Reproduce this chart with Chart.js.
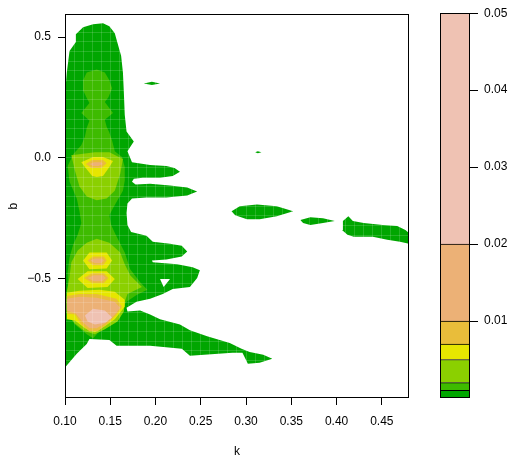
<!DOCTYPE html>
<html>
<head>
<meta charset="utf-8">
<script src="https://cdn.jsdelivr.net/npm/chart.js@4.4.1/dist/chart.umd.min.js"></script>
<style>
  html, body { margin: 0; padding: 0; background: #fff; }
  #wrap { position: relative; width: 510px; height: 463px; }
  #mainBox { position: absolute; left: 0; top: 0; width: 420px; height: 463px; }
  #keyBox  { position: absolute; left: 420px; top: 0; width: 90px; height: 463px; }
</style>
</head>
<body>
<div id="wrap">
  <div id="mainBox"><canvas id="main" width="420" height="463"></canvas></div>
  <div id="keyBox"><canvas id="key" width="90" height="463"></canvas></div>
</div>
<script>
/* ── axes ─────────────────────────────────────────────── */
const kRange = [0.10, 0.48];
const bRange = [-0.995, 0.595];
const kTicks = [0.10, 0.15, 0.20, 0.25, 0.30, 0.35, 0.40, 0.45];
const bTicks = [-0.5, 0.0, 0.5];
const kCellStep = 0.01;   // grid of the estimate (shows as faint seams)
const bCellStep = 0.04;

/* ── contour levels + colours (band i = levels[i]..levels[i+1]) ── */
const levels      = [0, 0.001, 0.002, 0.005, 0.007, 0.01, 0.02, 0.05];
const levelColors = ['#00A600', '#3EBB00', '#8BD000', '#E6E600', '#E9BD3A', '#ECB176', '#EFC2B3'];
const keyTicks    = [0.01, 0.02, 0.03, 0.04, 0.05];

/* ── regions above each level, [k, b] outlines ── */
// level 0 (> 0)
const lv0Main = [
  [0.100, 0.260], [0.102, 0.353], [0.105, 0.443], [0.112, 0.480], [0.112, 0.512],
  [0.120, 0.541], [0.131, 0.553], [0.142, 0.557], [0.149, 0.545], [0.155, 0.516],
  [0.158, 0.476], [0.162, 0.423], [0.164, 0.353], [0.165, 0.272], [0.166, 0.178],
  [0.168, 0.109], [0.176, 0.068], [0.169, 0.027], [0.174, -0.018],
  [0.194, -0.030], [0.212, -0.034], [0.221, -0.042], [0.227, -0.058], [0.219, -0.075],
  [0.205, -0.083], [0.186, -0.083], [0.176, -0.087], [0.174, -0.099], [0.178, -0.111],
  [0.194, -0.107], [0.216, -0.115], [0.235, -0.123], [0.246, -0.140], [0.235, -0.156],
  [0.212, -0.164], [0.190, -0.164], [0.174, -0.168], [0.169, -0.189], [0.168, -0.229],
  [0.169, -0.278], [0.173, -0.307], [0.190, -0.323], [0.197, -0.348], [0.216, -0.356],
  [0.229, -0.364], [0.235, -0.388], [0.229, -0.409], [0.212, -0.421], [0.196, -0.425],
  [0.197, -0.433], [0.224, -0.441], [0.241, -0.453], [0.249, -0.466], [0.246, -0.498],
  [0.238, -0.535], [0.219, -0.543], [0.208, -0.564], [0.194, -0.584], [0.179, -0.596],
  [0.168, -0.621], [0.169, -0.637], [0.183, -0.633], [0.194, -0.649], [0.205, -0.669],
  [0.227, -0.690], [0.238, -0.714], [0.257, -0.739], [0.282, -0.767], [0.295, -0.791],
  [0.304, -0.804], [0.319, -0.816], [0.329, -0.832], [0.315, -0.849], [0.302, -0.853],
  [0.296, -0.808], [0.285, -0.808], [0.238, -0.820], [0.229, -0.791], [0.194, -0.779],
  [0.157, -0.779], [0.149, -0.755], [0.127, -0.751], [0.124, -0.771], [0.113, -0.812],
  [0.100, -0.869],
];
const lv0Sliver = [[0.187, 0.308], [0.196, 0.315], [0.205, 0.308], [0.196, 0.302]];
const lv0Dot    = [[0.310, 0.023], [0.313, 0.027], [0.317, 0.023], [0.313, 0.019]];
const lv0StreakA = [
  [0.284, -0.221], [0.293, -0.201], [0.312, -0.193], [0.334, -0.201], [0.352, -0.221],
  [0.334, -0.242], [0.315, -0.254], [0.301, -0.254], [0.288, -0.238],
];
const lv0StreakB = [
  [0.360, -0.258], [0.371, -0.246], [0.385, -0.250], [0.398, -0.262],
  [0.385, -0.270], [0.371, -0.278], [0.363, -0.270],
];
const lv0StreakC = [
  [0.406, -0.299], [0.407, -0.262], [0.413, -0.242], [0.418, -0.262], [0.430, -0.270],
  [0.451, -0.278], [0.467, -0.282], [0.476, -0.299], [0.480, -0.311], [0.480, -0.356],
  [0.470, -0.348], [0.456, -0.339], [0.440, -0.327], [0.419, -0.327], [0.412, -0.319],
];
const lv0Hole = [[0.205, -0.502], [0.216, -0.502], [0.209, -0.535]];

// level 1 (> 0.001)
const lv1Core = [
  [0.135, 0.366], [0.144, 0.353], [0.149, 0.321], [0.152, 0.288], [0.148, 0.251],
  [0.144, 0.231], [0.153, 0.186], [0.144, 0.158], [0.146, 0.129], [0.149, 0.105],
  [0.152, 0.072], [0.155, 0.027], [0.163, 0.003], [0.166, -0.038], [0.166, -0.095],
  [0.164, -0.136], [0.158, -0.176], [0.153, -0.209], [0.149, -0.238], [0.151, -0.278],
  [0.156, -0.319], [0.166, -0.392], [0.172, -0.462], [0.183, -0.515], [0.191, -0.547],
  [0.179, -0.568], [0.168, -0.596], [0.164, -0.617], [0.157, -0.665], [0.152, -0.690],
  [0.138, -0.718], [0.131, -0.747], [0.124, -0.731], [0.111, -0.690], [0.103, -0.649],
  [0.102, -0.596], [0.103, -0.535], [0.103, -0.474], [0.105, -0.413], [0.109, -0.360],
  [0.114, -0.319], [0.118, -0.270], [0.116, -0.221], [0.113, -0.168], [0.105, -0.099],
  [0.103, -0.034], [0.109, 0.015], [0.118, 0.052], [0.122, 0.088], [0.124, 0.125],
  [0.127, 0.154], [0.118, 0.186], [0.127, 0.227], [0.124, 0.248], [0.120, 0.280],
  [0.120, 0.321], [0.124, 0.353],
];

// level 2 (> 0.002)
const lv2Upper = [
  [0.107, 0.011], [0.133, 0.023], [0.149, 0.023], [0.164, -0.005], [0.161, -0.066],
  [0.155, -0.136], [0.146, -0.168], [0.135, -0.176], [0.124, -0.160], [0.116, -0.119],
  [0.111, -0.054],
];
const lv2Lower = [
  [0.135, -0.335], [0.149, -0.352], [0.161, -0.392], [0.166, -0.441], [0.172, -0.486],
  [0.185, -0.535], [0.169, -0.564], [0.166, -0.596], [0.165, -0.637], [0.158, -0.678],
  [0.144, -0.710], [0.133, -0.731], [0.122, -0.718], [0.111, -0.686], [0.103, -0.645],
  [0.102, -0.596], [0.102, -0.555], [0.105, -0.494], [0.107, -0.433], [0.114, -0.384],
  [0.124, -0.352],
];

// level 3 (> 0.005)
const lv3Upper = [
  [0.118, -0.018], [0.131, 0.003], [0.142, 0.003], [0.153, -0.013], [0.149, -0.038],
  [0.142, -0.075], [0.135, -0.079], [0.130, -0.075], [0.122, -0.038],
];
const lv3Blob1 = [[0.120, -0.425], [0.127, -0.392], [0.146, -0.392], [0.152, -0.425], [0.146, -0.458], [0.127, -0.462]];
const lv3Blob2 = [[0.114, -0.502], [0.125, -0.470], [0.146, -0.470], [0.155, -0.502], [0.147, -0.535], [0.125, -0.539]];
const lv3Lower = [
  [0.102, -0.559], [0.116, -0.551], [0.138, -0.547], [0.155, -0.555], [0.166, -0.588],
  [0.166, -0.617], [0.155, -0.669], [0.144, -0.698], [0.133, -0.723], [0.122, -0.706],
  [0.111, -0.674], [0.102, -0.669],
];

// level 4 (> 0.007)
const lv4Upper = [[0.123, -0.026], [0.130, -0.009], [0.142, -0.009], [0.146, -0.022], [0.140, -0.042], [0.129, -0.042]];
const lv4Blob1 = [[0.125, -0.425], [0.131, -0.409], [0.143, -0.409], [0.146, -0.425], [0.142, -0.445], [0.131, -0.445]];
const lv4Blob2 = [[0.121, -0.498], [0.130, -0.478], [0.143, -0.478], [0.148, -0.498], [0.143, -0.519], [0.130, -0.519]];
const lv4Lower = [
  [0.102, -0.572], [0.116, -0.564], [0.135, -0.564], [0.157, -0.584], [0.163, -0.617],
  [0.157, -0.649], [0.146, -0.690], [0.136, -0.718], [0.127, -0.718], [0.118, -0.690],
  [0.111, -0.649], [0.102, -0.645],
];

// level 5 (> 0.01)
const lv5Upper = [[0.127, -0.026], [0.132, -0.018], [0.140, -0.018], [0.142, -0.026], [0.137, -0.034], [0.131, -0.034]];
const lv5Blob1 = [[0.128, -0.425], [0.133, -0.417], [0.141, -0.417], [0.143, -0.425], [0.140, -0.437], [0.133, -0.437]];
const lv5Blob2 = [[0.125, -0.498], [0.132, -0.486], [0.142, -0.486], [0.145, -0.498], [0.141, -0.511], [0.132, -0.511]];
const lv5Lower = [
  [0.102, -0.584], [0.116, -0.576], [0.135, -0.580], [0.155, -0.596], [0.161, -0.621],
  [0.155, -0.649], [0.144, -0.686], [0.135, -0.706], [0.127, -0.706], [0.120, -0.682],
  [0.112, -0.645], [0.102, -0.633],
];

// level 6 (> 0.02)
const lv6Core = [[0.122, -0.653], [0.131, -0.625], [0.144, -0.633], [0.152, -0.661], [0.145, -0.682], [0.133, -0.690], [0.125, -0.678]];

/* which outline belongs to which level (-1 = hole, painted white) */
const regions = [
  [0, lv0Main], [0, lv0Sliver], [0, lv0Dot], [0, lv0StreakA], [0, lv0StreakB], [0, lv0StreakC],
  [-1, lv0Hole],
  [1, lv1Core],
  [2, lv2Upper], [2, lv2Lower],
  [3, lv3Upper], [3, lv3Blob1], [3, lv3Blob2], [3, lv3Lower],
  [4, lv4Upper], [4, lv4Blob1], [4, lv4Blob2], [4, lv4Lower],
  [5, lv5Upper], [5, lv5Blob1], [5, lv5Blob2], [5, lv5Lower],
  [6, lv6Core],
];

/* ── defaults ─────────────────────────────────────────── */
Chart.defaults.color       = '#000';
Chart.defaults.font.family = "'Liberation Sans', Arial, Helvetica, sans-serif";
Chart.defaults.font.size   = 12;

/* box around the plotting region (after the seam grid layer) */
const frame = {
  id: 'frame',
  afterDraw(chart) {
    const { ctx, chartArea: a } = chart;
    ctx.save();
    ctx.strokeStyle = '#000';
    ctx.lineWidth = 1;
    ctx.strokeRect(Math.round(a.left) + 0.5, Math.round(a.top) + 0.5,
                   Math.round(a.width) - 1, Math.round(a.height) - 1);
    ctx.restore();
  },
};

const tickGrid = len => ({ display: true, drawOnChartArea: false, drawTicks: true, tickLength: len, color: '#000', lineWidth: 1 });
const fixTicks = list => scale => { scale.ticks = list.map(v => ({ value: v })); };

/* faint cell seams drawn over the fills: invisible on white */
const seamAxis = (pos, lo, hi, step) => ({
  type: 'linear', position: pos, min: lo, max: hi,
  afterFit: s => { s.width = 0; s.height = 0; },
  grid: { z: 1, drawOnChartArea: true, drawTicks: false, color: 'rgba(255,255,255,0.15)', lineWidth: 1 },
  border: { display: false },
  ticks: { display: false, stepSize: step, includeBounds: false, autoSkip: false },
});

/* ── main filled contour plot ─────────────────────────── */
new Chart(document.getElementById('main'), {
  type: 'line',
  data: {
    datasets: regions.map(([lv, pts]) => ({
      data: pts.map(([k, b]) => ({ x: k, y: b })),
      backgroundColor: lv < 0 ? '#ffffff' : levelColors[lv],
      borderWidth: 0,
      pointRadius: 0,
      tension: 0,
      fill: 'shape',
      order: lv < 0 ? 9.5 : 10 - lv,
    })),
  },
  options: {
    responsive: false,
    animation: false,
    events: [],
    layout: { padding: { top: 8, right: 11, left: 0, bottom: 0 } },
    plugins: { legend: { display: false }, tooltip: { enabled: false } },
    scales: {
      x: {
        type: 'linear', min: kRange[0], max: kRange[1],
        afterBuildTicks: fixTicks(kTicks),
        afterFit: s => { s.height = 65; },
        grid: tickGrid(7),
        border: { display: false },
        ticks: { padding: 9, maxRotation: 0, autoSkip: false, callback: v => v.toFixed(2) },
        title: { display: true, text: 'k', padding: { top: 0, bottom: 4 } },
      },
      y: {
        type: 'linear', min: bRange[0], max: bRange[1],
        afterBuildTicks: fixTicks(bTicks),
        afterFit: s => { s.width = 65; },
        grid: tickGrid(7),
        border: { display: false },
        ticks: { padding: 7, autoSkip: false, callback: v => v.toFixed(1).replace('-', '\u2212') },
        title: { display: true, text: 'b', padding: { top: 6, bottom: 0 } },
      },
      kSeam: seamAxis('top', kRange[0], kRange[1], kCellStep),
      bSeam: seamAxis('right', bRange[0], bRange[1], bCellStep),
    },
  },
  plugins: [frame],
});

/* ── colour key ───────────────────────────────────────── */
new Chart(document.getElementById('key'), {
  type: 'bar',
  data: {
    labels: [''],
    datasets: levelColors.map((c, i) => ({
      data: [levels[i + 1] - levels[i]],
      backgroundColor: c,
      borderColor: '#000',
      borderWidth: 1,
      borderSkipped: 'start',
      barPercentage: 1,
      categoryPercentage: 1,
    })),
  },
  options: {
    responsive: false,
    animation: false,
    events: [],
    layout: { padding: { top: 8, right: 0, left: 20, bottom: 65 } },
    plugins: { legend: { display: false }, tooltip: { enabled: false } },
    scales: {
      x: { display: false, stacked: true },
      y: {
        stacked: true, position: 'right', min: levels[0], max: levels[levels.length - 1],
        afterBuildTicks: fixTicks(keyTicks),
        afterFit: s => { s.width = 40; },
        grid: tickGrid(8),
        border: { display: false },
        ticks: { padding: 6, autoSkip: false, callback: v => v.toFixed(2) },
      },
    },
  },
  plugins: [frame],
});
</script>
</body>
</html>
